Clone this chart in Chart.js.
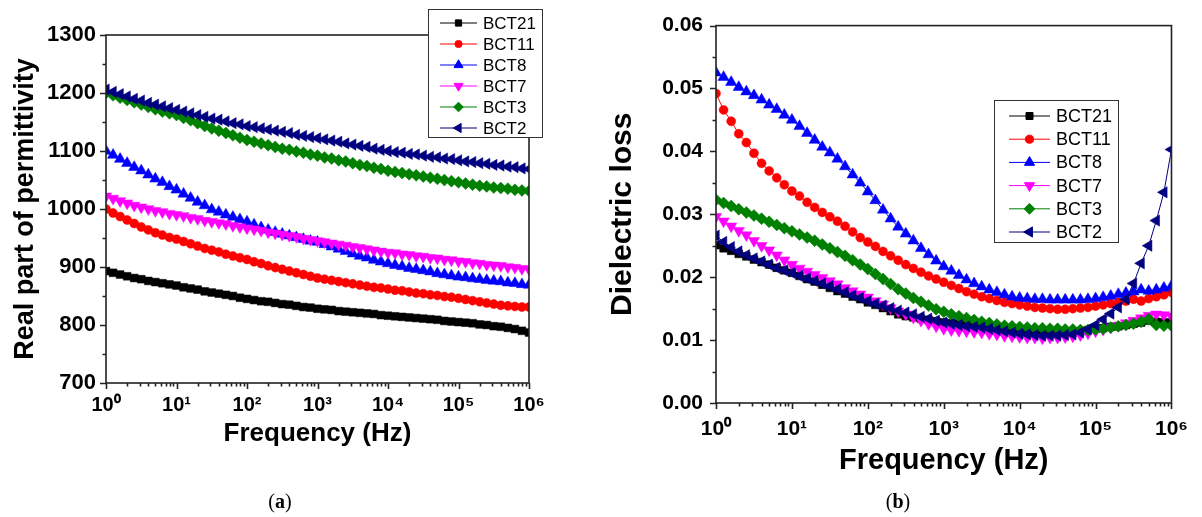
<!DOCTYPE html>
<html>
<head>
<meta charset="utf-8">
<script src="https://cdn.jsdelivr.net/npm/chart.js@4.4.1/dist/chart.umd.min.js"></script>
<style>
html, body { margin: 0; padding: 0; background: #fff; }
#wrap { position: relative; width: 1202px; height: 517px; overflow: hidden; }
canvas { position: absolute; top: 0; }
#cA { left: 0; }
#cB { left: 601px; }
.cap { position: absolute; top: 490px; font: 20px "Liberation Serif", "Times New Roman", serif; color: #000; transform: translateX(-50%); }
</style>
</head>
<body>
<div id="wrap">
  <canvas id="cA" width="601" height="517"></canvas>
  <canvas id="cB" width="601" height="517"></canvas>
  <div class="cap" style="left:280px">(<b>a</b>)</div>
  <div class="cap" style="left:898px">(<b>b</b>)</div>
</div>
<script>
// frequency points (Hz), 10 per decade
const freq = [
  1, 1.259, 1.585, 1.995, 2.512, 3.162, 3.981, 5.012, 6.310, 7.943,
  10, 12.59, 15.85, 19.95, 25.12, 31.62, 39.81, 50.12, 63.10, 79.43,
  100, 125.9, 158.5, 199.5, 251.2, 316.2, 398.1, 501.2, 631.0, 794.3,
  1000, 1259, 1585, 1995, 2512, 3162, 3981, 5012, 6310, 7943,
  10000, 12590, 15850, 19950, 25120, 31620, 39810, 50120, 63100, 79430,
  100000, 125900, 158500, 199500, 251200, 316200, 398100, 501200, 631000, 794300,
  1000000
];

const seriesNames = ["BCT21", "BCT11", "BCT8", "BCT7", "BCT3", "BCT2"];

// (a) real part of permittivity
const epsBCT21 = [893,890,887,884,881,879,876,874,872,870, 868,865,863,861,858,856,854,852,850,847, 845,843,841,840,838,836,835,833,831,830, 828,827,826,824,823,822,821,820,819,817, 816,815,814,813,812,811,810,809,807,806, 805,804,803,801,800,798,797,795,793,790, 787];
const epsBCT11 = [1000,993,987,981,975,969,964,959,955,951, 948,944,940,936,932,929,926,922,919,916, 913,909,906,902,899,896,893,890,887,884, 881,879,877,875,873,871,869,867,865,864, 862,860,859,857,855,854,852,851,849,848, 846,844,842,840,838,836,834,833,832,831, 831];
const epsBCT8 = [1100,1093,1086,1079,1072,1066,1059,1052,1046,1039, 1033,1026,1019,1012,1006,999,995,990,986,982, 978,973,968,964,960,957,954,951,948,945, 943,939,935,931,927,923,919,916,912,909, 906,903,901,898,896,894,892,889,887,885, 883,882,880,879,877,876,875,873,872,870, 869];
const epsBCT7 = [1022,1018,1014,1010,1006,1003,1000,997,995,992, 990,988,985,983,980,978,976,974,971,969, 967,965,963,960,958,956,954,952,949,947, 945,943,941,939,937,935,933,931,929,927, 925,924,922,921,919,918,916,915,913,912, 910,909,907,906,904,903,902,900,899,897, 896];
const epsBCT3 = [1200,1196,1192,1188,1184,1180,1176,1172,1168,1165, 1162,1157,1153,1148,1143,1139,1135,1131,1127,1123, 1119,1116,1113,1110,1107,1104,1102,1099,1097,1094, 1092,1089,1087,1084,1082,1079,1076,1074,1071,1069, 1066,1064,1062,1060,1058,1056,1054,1052,1050,1048, 1046,1044,1042,1040,1039,1037,1036,1035,1033,1032, 1031];
const epsBCT2 = [1206,1202,1198,1194,1190,1187,1183,1180,1177,1174, 1171,1168,1165,1162,1159,1156,1154,1151,1148,1146, 1143,1141,1139,1137,1135,1133,1131,1128,1126,1124, 1122,1120,1118,1116,1113,1111,1109,1107,1104,1102, 1100,1098,1097,1095,1094,1092,1090,1089,1087,1086, 1084,1082,1081,1079,1078,1076,1075,1073,1072,1070, 1069];

// (b) dielectric loss
const lossBCT21 = [0.0251,0.0246,0.0242,0.0237,0.0233,0.0228,0.0224,0.0220,0.0215,0.0211, 0.0207,0.0202,0.0197,0.0193,0.0188,0.0183,0.0178,0.0174,0.0169,0.0165, 0.0160,0.0156,0.0151,0.0146,0.0141,0.0138,0.0136,0.0134,0.0132,0.0130, 0.0128,0.0127,0.0126,0.0125,0.0124,0.0123,0.0121,0.0120,0.0118,0.0117, 0.0115,0.0114,0.0113,0.0112,0.0111,0.0110,0.0111,0.0112,0.0114,0.0116, 0.0118,0.0119,0.0121,0.0122,0.0124,0.0126,0.0128,0.0131,0.0129,0.0128, 0.0128];
const lossBCT11 = [0.0492,0.0466,0.0448,0.0428,0.0414,0.0397,0.0381,0.0369,0.0358,0.0347, 0.0337,0.0329,0.0319,0.0311,0.0303,0.0296,0.0289,0.0281,0.0272,0.0263, 0.0256,0.0249,0.0241,0.0234,0.0227,0.0220,0.0214,0.0208,0.0202,0.0197, 0.0192,0.0187,0.0182,0.0177,0.0173,0.0169,0.0166,0.0163,0.0160,0.0158, 0.0156,0.0154,0.0152,0.0151,0.0150,0.0149,0.0149,0.0150,0.0151,0.0152, 0.0154,0.0156,0.0158,0.0160,0.0162,0.0165,0.0162,0.0166,0.0169,0.0172, 0.0176];
const lossBCT8 = [0.0525,0.0518,0.0510,0.0502,0.0495,0.0489,0.0482,0.0474,0.0467,0.0458, 0.0450,0.0440,0.0429,0.0418,0.0407,0.0398,0.0388,0.0376,0.0363,0.0350, 0.0336,0.0322,0.0307,0.0293,0.0280,0.0269,0.0258,0.0246,0.0236,0.0226, 0.0217,0.0210,0.0203,0.0196,0.0190,0.0185,0.0180,0.0176,0.0172,0.0169, 0.0167,0.0166,0.0165,0.0165,0.0164,0.0164,0.0164,0.0164,0.0164,0.0165, 0.0166,0.0168,0.0170,0.0173,0.0175,0.0177,0.0180,0.0178,0.0180,0.0183, 0.0186];
const lossBCT7 = [0.0296,0.0289,0.0281,0.0274,0.0267,0.0258,0.0250,0.0243,0.0235,0.0227, 0.0220,0.0214,0.0209,0.0204,0.0199,0.0194,0.0189,0.0183,0.0178,0.0173, 0.0168,0.0162,0.0157,0.0151,0.0146,0.0141,0.0136,0.0131,0.0126,0.0122, 0.0118,0.0116,0.0115,0.0114,0.0113,0.0112,0.0110,0.0109,0.0107,0.0106, 0.0105,0.0104,0.0104,0.0103,0.0104,0.0104,0.0105,0.0106,0.0108,0.0111, 0.0114,0.0117,0.0120,0.0123,0.0127,0.0131,0.0135,0.0139,0.0141,0.0140, 0.0138];
const lossBCT3 = [0.0323,0.0318,0.0313,0.0308,0.0303,0.0298,0.0293,0.0288,0.0283,0.0278, 0.0273,0.0268,0.0263,0.0258,0.0252,0.0246,0.0240,0.0234,0.0227,0.0220, 0.0213,0.0205,0.0197,0.0189,0.0181,0.0174,0.0167,0.0161,0.0155,0.0149, 0.0145,0.0141,0.0138,0.0135,0.0132,0.0129,0.0127,0.0125,0.0123,0.0122, 0.0121,0.0120,0.0119,0.0119,0.0118,0.0118,0.0117,0.0117,0.0116,0.0116, 0.0117,0.0118,0.0120,0.0122,0.0124,0.0126,0.0129,0.0133,0.0124,0.0123, 0.0123];
const lossBCT2 = [0.0266,0.0256,0.0248,0.0241,0.0235,0.0230,0.0225,0.0220,0.0215,0.0211, 0.0207,0.0202,0.0198,0.0194,0.0190,0.0186,0.0181,0.0176,0.0171,0.0167, 0.0162,0.0158,0.0155,0.0151,0.0147,0.0144,0.0141,0.0137,0.0134,0.0131, 0.0128,0.0126,0.0124,0.0122,0.0121,0.0120,0.0118,0.0116,0.0114,0.0112, 0.0110,0.0109,0.0108,0.0107,0.0107,0.0107,0.0108,0.0109,0.0112,0.0117, 0.0124,0.0133,0.0142,0.0152,0.0165,0.0190,0.0222,0.0250,0.0290,0.0335, 0.0403];

const yTicksA = [700, 800, 900, 1000, 1100, 1200, 1300];
const yTicksB = [0.00, 0.01, 0.02, 0.03, 0.04, 0.05, 0.06];

// styles
const FONT = '"Liberation Sans", Arial, sans-serif';
const seriesColors = ["#000000", "#ff0000", "#0000ff", "#ff00ff", "#008000", "#000080"];
const markerStyles = ["rect", "circle", "triangle", "triangle", "rectRot", "triangle"];
const markerRotations = [0, 0, 0, 180, 0, -90];
const markerRadius = [5.5, 4.5, 6.5, 6.5, 6, 6.5];
const supDigits = ["\u2070", "\u00b9", "\u00b2", "\u00b3", "\u2074", "\u2075", "\u2076"];

function decadeLabel(v) {
  const e = Math.round(Math.log10(v));
  if (Math.abs(v - Math.pow(10, e)) < 1e-6 * v) return "10" + supDigits[e];
  return "";
}

function buildDatasets(values, scale) {
  return seriesNames.map((name, i) => ({
    label: name,
    data: freq.map((f, j) => ({ x: f, y: values[i][j] })),
    borderColor: seriesColors[i],
    backgroundColor: seriesColors[i],
    borderWidth: 1,
    pointStyle: markerStyles[i],
    pointRotation: markerRotations[i],
    pointRadius: markerRadius[i] * scale,
    pointBorderWidth: 0.5,
    pointBorderColor: seriesColors[i],
    pointBackgroundColor: seriesColors[i],
    order: seriesNames.length - 1 - i,
    tension: 0
  }));
}

// axes box with outward major/minor ticks
function framePlugin() {
  return {
    id: "frame",
    afterDatasetsDraw(chart) {
      const { ctx, chartArea: a, scales: { x, y } } = chart;
      ctx.save();
      ctx.strokeStyle = "#222";
      ctx.lineWidth = 1.6;
      ctx.strokeRect(a.left, a.top, a.right - a.left, a.bottom - a.top);
      ctx.beginPath();
      for (let n = 0; n <= 6; n++) {
        for (let k = 1; k <= 9; k++) {
          const v = k * Math.pow(10, n);
          if (v > 1e6 * 1.0001) break;
          const px = Math.round(x.getPixelForValue(v)) + 0.5;
          ctx.moveTo(px, a.bottom);
          ctx.lineTo(px, a.bottom + (k === 1 ? 6 : 3.5));
        }
      }
      const tv = y.ticks.map(t => t.value);
      tv.forEach((v, i) => {
        const py = Math.round(y.getPixelForValue(v)) + 0.5;
        ctx.moveTo(a.left, py);
        ctx.lineTo(a.left - 6, py);
        if (i < tv.length - 1) {
          const pm = Math.round(y.getPixelForValue((v + tv[i + 1]) / 2)) + 0.5;
          ctx.moveTo(a.left, pm);
          ctx.lineTo(a.left - 3.5, pm);
        }
      });
      ctx.stroke();
      ctx.restore();
    }
  };
}

// boxed legend with line + marker samples
function legendPlugin(L) {
  return {
    id: "boxLegend",
    afterDraw(chart) {
      const ctx = chart.ctx;
      ctx.save();
      ctx.fillStyle = "#fff";
      ctx.fillRect(L.x, L.y, L.w, L.h);
      ctx.strokeStyle = "#333";
      ctx.lineWidth = 1;
      ctx.strokeRect(L.x + 0.5, L.y + 0.5, L.w, L.h);
      ctx.font = L.fontSize + "px " + FONT;
      ctx.textBaseline = "middle";
      ctx.textAlign = "left";
      chart.data.datasets.forEach((ds, i) => {
        const cy = L.rowY + i * L.rowGap;
        ctx.strokeStyle = ds.borderColor;
        ctx.lineWidth = 1;
        ctx.beginPath();
        ctx.moveTo(L.lineX0, cy);
        ctx.lineTo(L.lineX1, cy);
        ctx.stroke();
        ctx.fillStyle = ds.backgroundColor;
        ctx.strokeStyle = ds.backgroundColor;
        Chart.helpers.drawPoint(ctx, {
          pointStyle: ds.pointStyle,
          rotation: ds.pointRotation,
          radius: markerRadius[i] * L.markerScale,
          borderWidth: 0.5
        }, (L.lineX0 + L.lineX1) / 2, cy);
        ctx.fillStyle = "#000";
        ctx.fillText(ds.label, L.textX, cy + 1);
      });
      ctx.restore();
    }
  };
}

function makeChart(id, values, p) {
  return new Chart(document.getElementById(id), {
    type: "line",
    data: { datasets: buildDatasets(values, p.markerScale) },
    options: {
      responsive: false,
      animation: false,
      events: [],
      layout: { padding: p.padding },
      plugins: { legend: { display: false }, tooltip: { enabled: false } },
      scales: {
        x: {
          type: "logarithmic",
          min: 1,
          max: 1e6,
          grid: { display: false, drawTicks: false },
          border: { display: false },
          ticks: {
            autoSkip: false,
            maxRotation: 0,
            padding: p.xTickPad,
            color: "#000",
            font: { family: FONT, size: p.xTickSize, weight: "bold" },
            callback: v => decadeLabel(v)
          },
          title: {
            display: true,
            text: "Frequency (Hz)",
            color: "#000",
            font: { family: FONT, size: p.xTitleSize, weight: "bold" },
            padding: { top: 0, bottom: p.xTitlePad }
          },
          afterFit: s => { s.height = p.xHeight; }
        },
        y: {
          min: p.yTicks[0],
          max: p.yTicks[p.yTicks.length - 1],
          grid: { display: false, drawTicks: false },
          border: { display: false },
          afterBuildTicks: s => { s.ticks = p.yTicks.map(v => ({ value: v })); },
          ticks: {
            padding: p.yTickPad,
            color: "#000",
            font: { family: FONT, size: p.yTickSize, weight: "bold" },
            callback: p.yFormat
          },
          title: {
            display: true,
            text: p.yTitle,
            color: "#000",
            font: { family: FONT, size: p.yTitleSize, weight: "bold" },
            padding: { top: p.yTitlePad, bottom: 0 }
          },
          afterFit: s => { s.width = p.yWidth; }
        }
      }
    },
    plugins: [framePlugin(), legendPlugin(p.legend)]
  });
}

makeChart("cA", [epsBCT21, epsBCT11, epsBCT8, epsBCT7, epsBCT3, epsBCT2], {
  padding: { top: 35, right: 72, left: 0, bottom: 0 },
  markerScale: 1,
  xHeight: 134, xTickPad: 10, xTickSize: 20, xTitleSize: 26, xTitlePad: 68,
  yWidth: 106, yTickPad: 10, yTickSize: 22, yTitleSize: 27, yTitlePad: 9,
  yTicks: yTicksA, yTitle: "Real part of permittivity",
  yFormat: v => String(v),
  legend: { x: 428, y: 9, w: 114, h: 128, rowY: 23, rowGap: 21, lineX0: 440, lineX1: 477, textX: 483, fontSize: 17, markerScale: 0.8 }
});

makeChart("cB", [lossBCT21, lossBCT11, lossBCT8, lossBCT7, lossBCT3, lossBCT2], {
  padding: { top: 21, right: 19, left: 0, bottom: 0 },
  markerScale: 1,
  xHeight: 114, xTickPad: 14, xTickSize: 21, xTitleSize: 29, xTitlePad: 39,
  yWidth: 115, yTickPad: 13, yTickSize: 21, yTitleSize: 30, yTitlePad: 4,
  yTicks: yTicksB, yTitle: "Dielectric loss",
  yFormat: v => v.toFixed(2),
  legend: { x: 393, y: 100, w: 124, h: 142, rowY: 116, rowGap: 23.2, lineX0: 408, lineX1: 449, textX: 455, fontSize: 18, markerScale: 0.9 }
});
</script>
</body>
</html>
